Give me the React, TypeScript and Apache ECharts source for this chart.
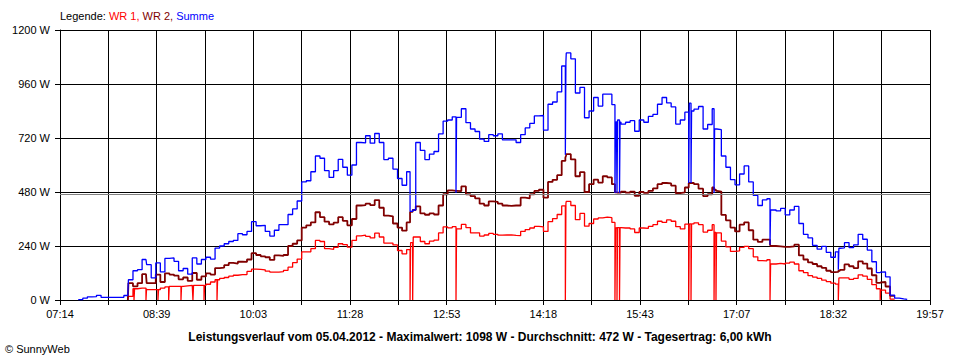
import React, { useEffect, useRef } from 'react';
import * as echarts from 'echarts';

// ---- axis definitions ----
const tickLabels = ['07:14', '08:39', '10:03', '11:28', '12:53', '14:18', '15:43', '17:07', '18:32', '19:57'];
const axisStartMin = 434; // 07:14
const axisEndMin = 1197; // 19:57
const slotCount = 18;
const yMax = 1200;
const yStep = 240;
const average = 472;

const legendParts = ['Legende: ', 'WR 1, ', 'WR 2, ', 'Summe'];
const titleText =
  'Leistungsverlauf vom 05.04.2012 - Maximalwert: 1098 W - Durchschnitt: 472 W - Tagesertrag: 6,00 kWh';
const copyright = '\u00A9 SunnyWeb';

// ---- data (time in minutes of the day) ----
const times = [
  450, 454, 458, 462, 466, 470, 474, 478, 482, 486,
  490, 493.5, 494, 498, 498.9, 499.4, 502, 506, 509.4, 509.9,
  510, 514, 518, 519.9, 520.4, 522, 526, 529.3, 529.8, 530,
  534, 538, 540.1, 540.6, 542, 546, 550, 550.6, 551.1, 554,
  558, 560.3, 560.8, 562, 566, 570, 571.7, 572.2, 574, 578,
  582, 586, 590, 594, 598, 602, 606, 610, 614, 618,
  622, 626, 630, 634, 638, 642, 646, 650, 654, 658,
  662, 666, 670, 674, 678, 682, 686, 690, 694, 698,
  702, 706, 710, 714, 718, 722, 726, 730, 734, 738,
  741, 741.5, 743.3, 743.8, 746, 750, 754, 758, 762, 766,
  770, 774, 778, 781.3, 781.8, 782, 786, 790, 794, 798,
  802, 806, 810, 814, 818, 822, 826, 830, 834, 838,
  842, 846, 850, 854, 858, 862, 866, 870, 874, 877.2,
  877.7, 878, 882, 886, 890, 894, 898, 902, 906, 910,
  914, 918, 920.7, 921.2, 922, 922.5, 923, 924.7, 925.2, 926,
  930, 934, 938, 942, 946, 950, 954, 958, 962, 966,
  970, 974, 978, 982, 985.4, 985.9, 986, 987.4, 987.9, 990,
  994, 998, 1002, 1006, 1007.6, 1008.1, 1009.3, 1009.8, 1010, 1014,
  1018, 1022, 1026, 1030, 1034, 1038, 1042, 1046, 1050, 1054,
  1056.7, 1057.2, 1058, 1062, 1066, 1070, 1074, 1078, 1082, 1086,
  1090, 1094, 1098, 1102, 1106, 1110, 1114, 1116.6, 1117.1, 1118,
  1122, 1126, 1130, 1134, 1138, 1142, 1146, 1150, 1153.3, 1153.8,
  1154, 1158, 1162, 1166, 1170, 1174, 1177,
];

const wr1: (number | null)[] = [
  null, null, null, null, null, null, null, null, null, null,
  null, 0, 16, 50, 0, 50, 53, 53, 0, 50,
  46, 46, 46, 0, 46, 53, 58, 0, 58, 61,
  61, 61, 0, 61, 63, 65, 65, 0, 65, 65,
  65, 0, 65, 70, 80, 90, 0, 90, 96, 100,
  106, 110, 113, 113, 127, 137, 136, 134, 128, 124,
  124, 126, 132, 146, 166, 182, 214, 214, 228, 265,
  260, 228, 225, 234, 250, 246, 235, 265, 285, 288,
  283, 276, 297, 280, 253, 253, 245, 220, 205, 224,
  0, 255, 0, 280, 280, 260, 250, 262, 266, 298,
  325, 321, 326, 0, 316, 316, 336, 322, 298, 298,
  284, 289, 296, 292, 288, 289, 289, 287, 286, 305,
  313, 320, 327, 325, 305, 348, 362, 380, 418, 0,
  430, 438, 420, 357, 385, 328, 340, 360, 365, 368,
  366, 345, 0, 320, 322, 0, 322, 0, 322, 320,
  320, 316, 300, 320, 318, 327, 335, 350, 345, 356,
  350, 326, 316, 337, 0, 338, 338, 0, 338, 343,
  335, 302, 310, 335, 0, 300, 0, 298, 298, 262,
  236, 216, 218, 234, 238, 228, 192, 175, 174, 179,
  0, 160, 160, 163, 160, 164, 168, 160, 130, 122,
  108, 102, 96, 88, 82, 75, 71, 0, 98, 98,
  98, 92, 96, 112, 106, 92, 68, 50, 0, 44,
  44, 31, 4, null, null, null, null,
];

const wr2: (number | null)[] = [
  null, null, null, null, null, null, null, null, null, null,
  null, 0, 75, 61, 61, 61, 75, 115, 115, 115,
  75, 75, 113, 113, 113, 80, 118, 118, 118, 113,
  108, 92, 92, 92, 100, 85, 120, 120, 120, 90,
  105, 105, 105, 118, 113, 142, 142, 142, 144, 155,
  165, 162, 170, 169, 180, 208, 200, 194, 190, 178,
  198, 196, 200, 240, 250, 265, 322, 332, 345, 390,
  368, 348, 336, 344, 368, 352, 332, 360, 420, 422,
  428, 422, 444, 410, 375, 372, 340, 322, 308, 345,
  390, 392, 400, 400, 416, 385, 379, 385, 380, 420,
  470, 487, 485, 485, 485, 484, 505, 470, 462, 452,
  428, 420, 438, 436, 428, 420, 418, 420, 420, 455,
  452, 470, 485, 490, 455, 525, 534, 555, 618, 632,
  640, 648, 625, 550, 568, 480, 515, 535, 522, 550,
  545, 515, 478, 478, 477, 477, 477, 477, 477, 482,
  477, 482, 463, 480, 476, 485, 496, 515, 520, 518,
  508, 475, 478, 500, 520, 520, 520, 520, 520, 515,
  495, 462, 470, 500, 490, 490, 485, 485, 482, 378,
  354, 322, 305, 335, 345, 310, 268, 258, 268, 268,
  246, 240, 240, 238, 236, 236, 238, 246, 198, 180,
  167, 160, 150, 143, 130, 124, 125, 130, 130, 134,
  158, 150, 142, 172, 162, 140, 110, 76, 78, 78,
  80, 60, 18, null, null, null, null,
];

const summe: number[] = [
  2, 8, 14, 15, 21, 12, 12, 12, 12, 12,
  20, 30, 90, 130, 130, 130, 135, 180, 180, 180,
  157, 98, 165, 165, 165, 125, 185, 185, 185, 187,
  172, 130, 130, 130, 140, 115, 187, 187, 187, 160,
  180, 180, 180, 190, 182, 231, 231, 231, 240, 250,
  260, 265, 295, 290, 305, 348, 330, 332, 305, 284,
  310, 335, 335, 380, 405, 440, 525, 530, 570, 640,
  630, 575, 545, 575, 625, 590, 555, 600, 700, 698,
  730, 697, 740, 700, 624, 630, 582, 540, 510, 570,
  394, 394, 400, 400, 700, 665, 624, 648, 660, 738,
  795, 800, 814, 476, 812, 812, 850, 788, 760, 749,
  715, 705, 735, 730, 738, 712, 712, 712, 700, 735,
  765, 785, 818, 820, 755, 870, 880, 925, 1040, 646,
  1060, 1098, 1072, 920, 945, 810, 840, 900, 862, 915,
  915, 868, 476, 790, 795, 476, 800, 476, 790, 782,
  790, 797, 750, 800, 790, 816, 825, 870, 900, 876,
  858, 782, 800, 835, 520, 870, 875, 520, 840, 848,
  860, 760, 780, 850, 476, 760, 760, 760, 757, 640,
  590, 535, 512, 560, 596, 525, 465, 420, 445, 450,
  246, 400, 401, 396, 407, 378, 400, 416, 340, 292,
  276, 243, 226, 238, 212, 190, 214, 135, 230, 232,
  255, 233, 245, 292, 270, 222, 170, 122, 124, 124,
  125, 103, 22, 8, 5, 3, 2,
];

const FONT = '"Liberation Sans", Arial, "DejaVu Sans", sans-serif';

function toSlot(t: number): number {
  return ((t - axisStartMin) / (axisEndMin - axisStartMin)) * slotCount;
}

function buildData(values: (number | null)[]) {
  return times.map((t, i) => [toSlot(t), values[i] === null ? '-' : values[i]]);
}

export default function App() {
  const ref = useRef<HTMLDivElement>(null);

  useEffect(() => {
    if (!ref.current) return;
    const chart = echarts.init(ref.current, undefined, { renderer: 'svg' });
    const option: any = {
      animation: false,
      backgroundColor: '#ffffff',
      grid: { left: 60, right: 30, top: 30, bottom: 60 },
      xAxis: {
        type: 'value',
        min: 0,
        max: slotCount,
        interval: 1,
        axisLine: { show: true, onZero: false, lineStyle: { color: '#000', width: 1 } },
        axisTick: { show: true, length: 5, lineStyle: { color: '#000', width: 1 } },
        axisLabel: {
          color: '#000',
          fontFamily: FONT,
          fontSize: 11,
          margin: 8,
          formatter: (v: number) => {
            const k = Math.round(v);
            return k % 2 === 0 ? tickLabels[k / 2] ?? '' : '';
          },
        },
        splitLine: { show: true, lineStyle: { color: '#000', width: 1 } },
      },
      yAxis: {
        type: 'value',
        min: 0,
        max: yMax,
        interval: yStep,
        axisLine: { show: true, lineStyle: { color: '#000', width: 1 } },
        axisTick: { show: true, length: 5, lineStyle: { color: '#000', width: 1 } },
        axisLabel: {
          color: '#000',
          fontFamily: FONT,
          fontSize: 11,
          margin: 10,
          formatter: (v: number) => `${v} W`,
        },
        splitLine: { show: true, lineStyle: { color: '#000', width: 1 } },
      },
      series: [
        {
          name: 'WR 1',
          type: 'line',
          step: 'end',
          data: buildData(wr1),
          showSymbol: false,
          symbol: 'none',
          lineStyle: { color: '#ff0000', width: 1.3 },
          itemStyle: { color: '#ff0000' },
          emphasis: { disabled: true },
          z: 3,
        },
        {
          name: 'WR 2',
          type: 'line',
          step: 'end',
          data: buildData(wr2),
          showSymbol: false,
          symbol: 'none',
          lineStyle: { color: '#800000', width: 1.8 },
          itemStyle: { color: '#800000' },
          emphasis: { disabled: true },
          z: 3,
        },
        {
          name: 'Summe',
          type: 'line',
          step: 'end',
          data: buildData(summe),
          showSymbol: false,
          symbol: 'none',
          lineStyle: { color: '#0000ff', width: 1.3 },
          itemStyle: { color: '#0000ff' },
          emphasis: { disabled: true },
          z: 3,
          markLine: {
            silent: true,
            symbol: 'none',
            label: { show: false },
            lineStyle: { color: '#808080', type: 'solid', width: 1 },
            data: [{ yAxis: average }],
          },
        },
      ],
      graphic: [
        {
          type: 'text',
          x: 60,
          y: 16,
          style: {
            text: `{k|${legendParts[0]}}{a|${legendParts[1]}}{b|${legendParts[2]}}{c|${legendParts[3]}}`,
            verticalAlign: 'middle',
            fontSize: 11,
            fontFamily: FONT,
            fill: '#000',
            rich: {
              k: { fill: '#000000', color: '#000000', fontSize: 11, fontFamily: FONT },
              a: { fill: '#ff0000', color: '#ff0000', fontSize: 11, fontFamily: FONT },
              b: { fill: '#800000', color: '#800000', fontSize: 11, fontFamily: FONT },
              c: { fill: '#0000ff', color: '#0000ff', fontSize: 11, fontFamily: FONT },
            },
          },
        },
        {
          type: 'text',
          x: 480,
          y: 337,
          style: {
            text: titleText,
            align: 'center',
            verticalAlign: 'middle',
            fontSize: 12,
            fontWeight: 'bold',
            fontFamily: FONT,
            fill: '#000',
          },
        },
        {
          type: 'text',
          x: 5,
          y: 349,
          style: {
            text: copyright,
            align: 'left',
            verticalAlign: 'middle',
            fontSize: 11,
            fontFamily: FONT,
            fill: '#000',
          },
        },
      ],
    };
    chart.setOption(option);
    return () => chart.dispose();
  }, []);

  return (
    <div
      ref={ref}
      style={{ position: 'absolute', left: 0, top: 0, width: 960, height: 360, background: '#fff' }}
    />
  );
}
